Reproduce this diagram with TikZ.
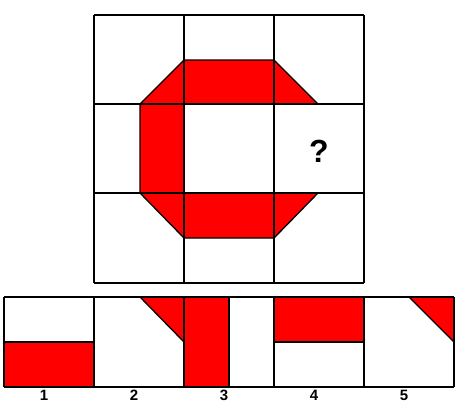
\documentclass[tikz,border=0pt]{standalone}
\usepackage{fontspec}
\setmainfont{Liberation Sans}
\begin{document}
\begin{tikzpicture}[x=1pt,y=-1pt,
  gridline/.style={draw=black,line width=1.3pt},
  redfill/.style={fill=red},
  lbl/.style={font=\bfseries\fontsize{15}{15}\selectfont,inner sep=0pt}]
\useasboundingbox (0,0) rectangle (458,416);
\fill[white] (0,0) rectangle (458,416);
% top puzzle: red C shape
\fill[redfill] (140,104) -- (184,60) -- (274,60) -- (318,104) -- (184,104) -- (184,193) -- (318,193) -- (274,238) -- (184,238) -- (140,193) -- cycle;
\draw[gridline,line join=miter] (318,104) -- (274,60) -- (184,60) -- (140,104) -- (140,193) -- (184,238) -- (274,238) -- (318,193);
% top grid
\foreach \x in {94,184,274,364} \draw[gridline] (\x,15) -- (\x,283);
\foreach \y in {15,104,193,283} \draw[gridline] (94,\y) -- (364,\y);
\node[font=\bfseries\fontsize{32}{32}\selectfont,inner sep=0pt] (q) at (319,151) {?};
% answer options
\fill[redfill] (4,342) rectangle (94,387);
\fill[redfill] (140,297) -- (184,297) -- (184,342) -- cycle;
\fill[redfill] (184,297) rectangle (229,387);
\fill[redfill] (274,297) rectangle (364,342);
\fill[redfill] (409,297) -- (454,297) -- (454,342) -- cycle;
\draw[gridline] (4,342) -- (94,342);
\draw[gridline] (140,297) -- (184,342);
\draw[gridline] (229,297) -- (229,387);
\draw[gridline] (274,342) -- (364,342);
\draw[gridline] (409,297) -- (454,342);
\foreach \x in {4,94,184,274,364,454} \draw[gridline] (\x,297) -- (\x,387);
\draw[gridline] (4,297) -- (454,297);
\draw[gridline] (4,387) -- (454,387);
\node[lbl] (l1) at (44,395.5) {1};
\node[lbl] (l2) at (134,395.5) {2};
\node[lbl] (l3) at (224,395.5) {3};
\node[lbl] (l4) at (314,395.5) {4};
\node[lbl] (l5) at (404,395.5) {5};
\end{tikzpicture}
\end{document}
